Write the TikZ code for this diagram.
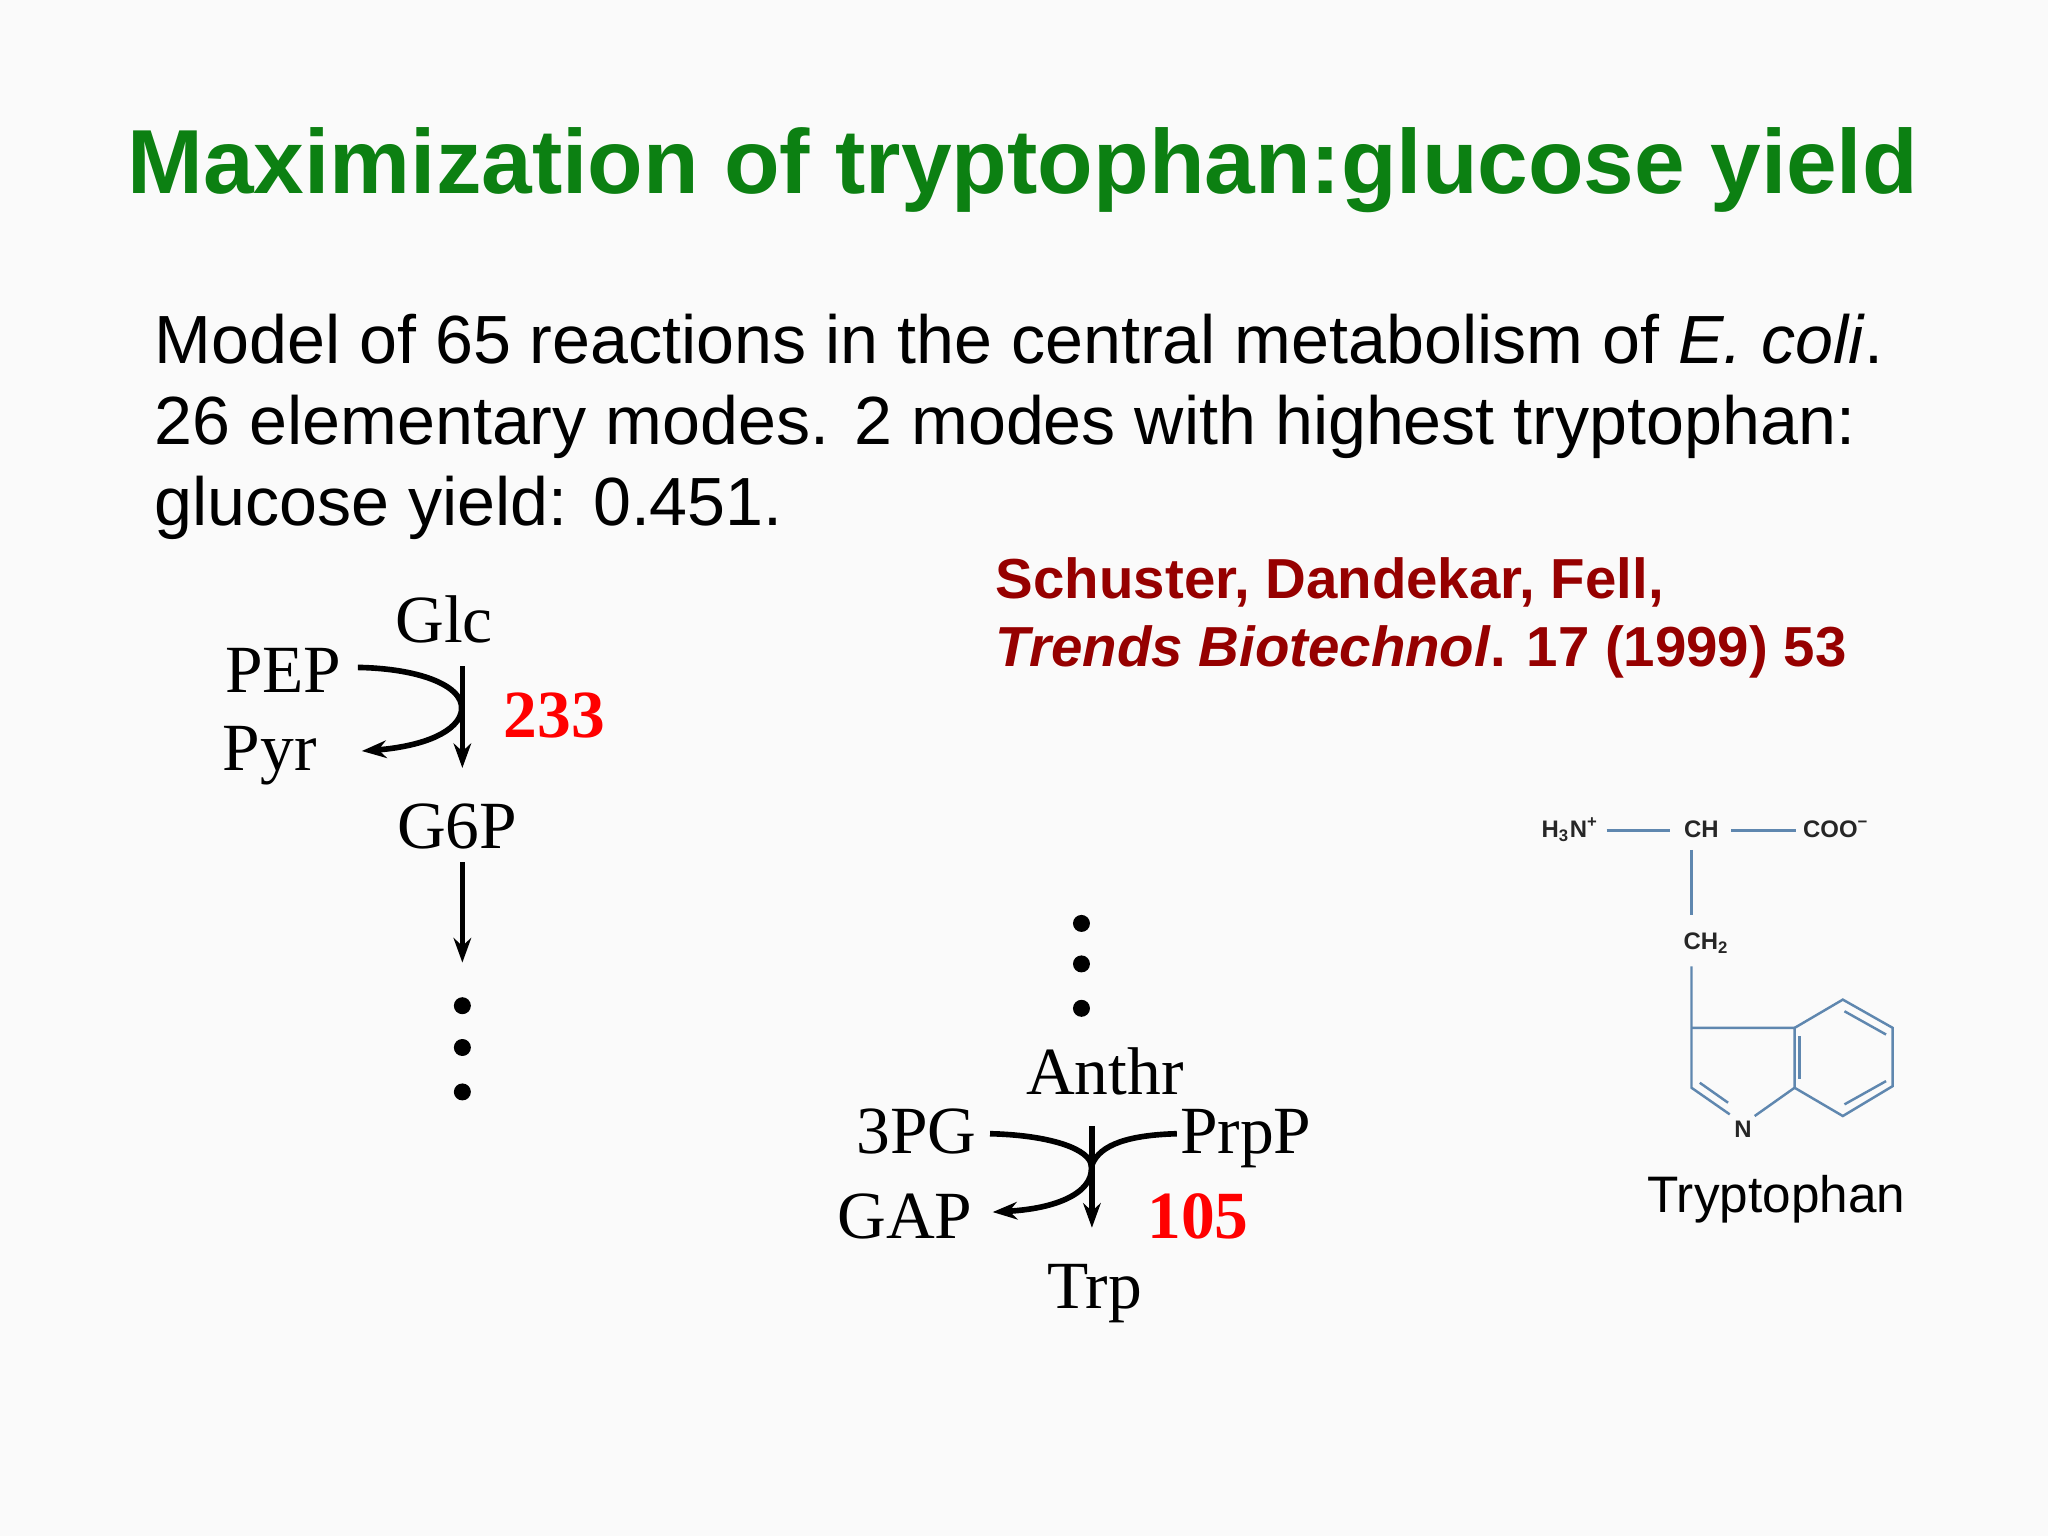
\documentclass[tikz,border=0pt]{standalone}
\usepackage{fontspec}
\setmainfont{Liberation Sans}
\newfontfamily\tms{Liberation Serif}
\usetikzlibrary{arrows.meta}
\definecolor{titlegreen}{RGB}{12,128,18}
\definecolor{refred}{RGB}{150,0,0}
\definecolor{bond}{RGB}{95,135,175}
\begin{document}
\begin{tikzpicture}[x=0.013061cm,y=-0.013061cm,
  met/.style={font=\tms\fontsize{19.2}{23}\selectfont,inner sep=0pt},
  num/.style={font=\tms\bfseries\fontsize{19.2}{23}\selectfont,text=red,inner sep=0pt},
  body/.style={font=\fontsize{19.4}{24}\selectfont,inner sep=0pt,anchor=base west},
  rxn/.style={line width=1.6pt,-{Stealth[length=7pt,width=5pt]}},
  rxnn/.style={line width=1.6pt},
  chem/.style={font=\bfseries\fontsize{6.8}{8}\selectfont,inner sep=0pt,text=black!85},
  bd/.style={draw=bond,line width=0.7pt}]
\fill[white!98!black] (0,0) rectangle (1568,1176);
\useasboundingbox (0,0) rectangle (1568,1176);
\node[font=\bfseries\fontsize{25.9}{31}\selectfont,text=titlegreen,anchor=base,inner sep=0pt] (title) at (783,148) {Maximization of tryptophan:glucose yield};
\node[body] (l1) at (118,278) {Model of 65 reactions in the central metabolism of \textit{E. coli}.};
\node[body] (l2) at (118,340) {26 elementary modes. 2 modes with highest tryptophan:};
\node[body] (l3) at (118,402) {glucose yield: 0.451.};
\node[font=\bfseries\fontsize{16.05}{20}\selectfont,text=refred,anchor=base west,inner sep=0pt] (r1) at (762,458) {Schuster, Dandekar, Fell,};
\node[font=\bfseries\fontsize{16.05}{20}\selectfont,text=refred,anchor=base west,inner sep=0pt] (r2) at (762,510) {\textit{Trends Biotechnol}. 17 (1999) 53};
% first reaction
\node[met,anchor=base] (glc) at (340,492) {Glc};
\node[met,anchor=base east] (pep) at (262,530) {PEP};
\node[met,anchor=base east] (pyr) at (243,590) {Pyr};
\node[num,anchor=base west] (n233) at (385,565) {233};
\node[met,anchor=base] (g6p) at (350,650) {G6P};
\coordinate (a1) at (354,510);
\coordinate (a2) at (354,588);
\draw[rxn] (a1) -- (a2);
\draw[rxn] (274,511) .. controls (330,512) and (365,530) .. (350,552) .. controls (338,568) and (305,573) .. (277,575);
\coordinate (b1) at (354,660);
\coordinate (b2) at (354,737);
\draw[rxn] (b1) -- (b2);
\foreach \i/\yy in {1/770,2/802,3/836}{\fill (354,\yy) circle (6.5) coordinate (d\i);}
\foreach \i/\yy in {1/707,2/738,3/772}{\fill (828,\yy) circle (6.5) coordinate (e\i);}
% second reaction
\node[met,anchor=base] (anthr) at (846,838) {Anthr};
\node[met,anchor=base east] (pg) at (748,883) {3PG};
\node[met,anchor=base west] (prpp) at (903,883) {PrpP};
\node[met,anchor=base east] (gap) at (745,948) {GAP};
\node[num,anchor=base west] (n105) at (878,948) {105};
\node[met,anchor=base] (trp) at (838,1002) {Trp};
\coordinate (c1) at (836,862);
\coordinate (c2) at (836,940);
\draw[rxn] (c1) -- (c2);
\draw[rxn] (758,868) .. controls (800,869) and (830,878) .. (835,890) .. controls (840,910) and (815,925) .. (760,928);
\draw[rxnn] (901,868) .. controls (865,869) and (842,876) .. (836,892);
% tryptophan structure
\begin{scope}[shift={(1163.9,604.9)},x=0.003334cm,y=-0.003334cm]
\node[chem] (h3n) at (150,118) {H\textsubscript{3}N\textsuperscript{+}};
\node[chem] (ch) at (545,118) {CH};
\node[chem] (coo) at (950,118) {COO\textsuperscript{−}};
\node[chem] (ch2) at (560,460) {CH\textsubscript{2}};
\node[chem] (nn) at (670,1020) {N};
\draw[bd] (260,122) -- (450,122);
\draw[bd] (635,122) -- (830,122);
\draw[bd] (515,180) -- (515,375);
\draw[bd] (515,530) -- (515,895) -- (630,975);
\draw[bd] (540,880) -- (625,940);
\draw[bd] (515,715) -- (825,715) -- (825,895) -- (705,980);
\draw[bd] (840,740) -- (840,870);
\draw[bd] (825,715) -- (970,630) -- (1120,715) -- (1120,890) -- (970,980) -- (825,895);
\draw[bd] (975,665) -- (1100,735);
\draw[bd] (1100,875) -- (975,945);
\end{scope}
\node[font=\fontsize{14.6}{18}\selectfont,anchor=base,inner sep=0pt] (tlabel) at (1360,928) {Tryptophan};
\end{tikzpicture}
\end{document}
